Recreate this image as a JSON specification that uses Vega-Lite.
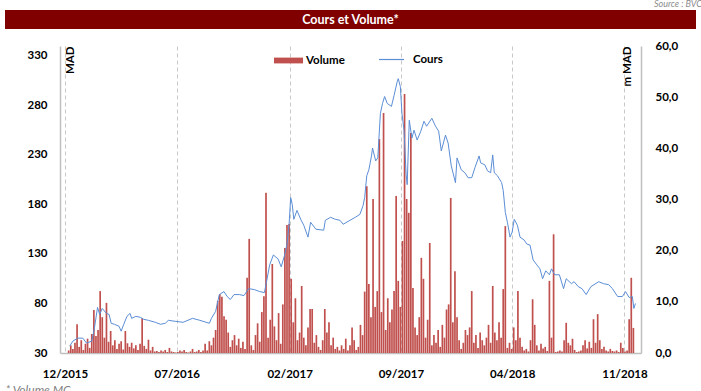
{
"$schema": "https://vega.github.io/schema/vega-lite/v6.json",
"padding": {"top": 0, "left": 5, "right": 5, "bottom": 0},
"title": {"text": "Source : BVC", "anchor": "end", "fontSize": 9, "fontStyle": "italic", "fontWeight": "normal", "color": "#8c8c8c", "font": "Lato", "offset": 1, "dx": 6},
"config": {"view": {"stroke": null}, "font": "Lato"},
"spacing": 17,
"bounds": "flush",
"center": true,
"datasets": {
"line": [
{"d":"2015-12-10","c":37},{"d":"2015-12-16","c":42},{"d":"2015-12-25","c":45},{"d":"2016-01-04","c":45},{"d":"2016-01-11","c":40},{"d":"2016-01-21","c":42},{"d":"2016-01-26","c":55},{"d":"2016-02-01","c":76},{"d":"2016-02-05","c":69},{"d":"2016-02-10","c":75},{"d":"2016-02-18","c":70},{"d":"2016-02-23","c":69},{"d":"2016-02-27","c":60},{"d":"2016-03-04","c":59},{"d":"2016-03-13","c":57},{"d":"2016-03-17","c":52},{"d":"2016-03-22","c":59},{"d":"2016-03-28","c":67},{"d":"2016-04-03","c":70},{"d":"2016-04-06","c":65},{"d":"2016-04-14","c":67},{"d":"2016-04-23","c":66},{"d":"2016-04-29","c":64},{"d":"2016-05-08","c":63},{"d":"2016-05-21","c":61},{"d":"2016-05-31","c":59},{"d":"2016-06-09","c":60},{"d":"2016-06-15","c":63},{"d":"2016-06-28","c":62},{"d":"2016-07-13","c":61},{"d":"2016-07-31","c":65},{"d":"2016-08-14","c":63},{"d":"2016-09-01","c":60},{"d":"2016-09-05","c":65},{"d":"2016-09-13","c":72},{"d":"2016-09-20","c":89},{"d":"2016-09-29","c":92},{"d":"2016-10-05","c":87},{"d":"2016-10-11","c":84},{"d":"2016-10-18","c":89},{"d":"2016-10-28","c":89},{"d":"2016-11-06","c":88},{"d":"2016-11-15","c":95},{"d":"2016-11-26","c":94},{"d":"2016-12-06","c":92},{"d":"2016-12-15","c":91},{"d":"2016-12-19","c":102},{"d":"2016-12-25","c":119},{"d":"2017-01-01","c":129},{"d":"2017-01-10","c":125},{"d":"2017-01-16","c":117},{"d":"2017-01-22","c":128},{"d":"2017-01-27","c":140},{"d":"2017-01-31","c":160},{"d":"2017-02-03","c":187},{"d":"2017-02-06","c":180},{"d":"2017-02-09","c":165},{"d":"2017-02-15","c":174},{"d":"2017-02-23","c":164},{"d":"2017-02-28","c":159},{"d":"2017-03-08","c":147},{"d":"2017-03-13","c":162},{"d":"2017-03-23","c":155},{"d":"2017-04-07","c":154},{"d":"2017-04-10","c":164},{"d":"2017-04-20","c":167},{"d":"2017-04-29","c":165},{"d":"2017-05-08","c":164},{"d":"2017-05-14","c":160},{"d":"2017-05-27","c":164},{"d":"2017-06-06","c":167},{"d":"2017-06-15","c":170},{"d":"2017-06-21","c":179},{"d":"2017-06-24","c":187},{"d":"2017-06-28","c":209},{"d":"2017-07-02","c":215},{"d":"2017-07-07","c":229},{"d":"2017-07-09","c":237},{"d":"2017-07-15","c":224},{"d":"2017-07-19","c":227},{"d":"2017-07-24","c":272},{"d":"2017-07-28","c":282},{"d":"2017-08-01","c":289},{"d":"2017-08-06","c":282},{"d":"2017-08-14","c":279},{"d":"2017-08-19","c":290},{"d":"2017-08-25","c":304},{"d":"2017-08-27","c":307},{"d":"2017-08-31","c":299},{"d":"2017-09-03","c":272},{"d":"2017-09-07","c":255},{"d":"2017-09-11","c":210},{"d":"2017-09-13","c":200},{"d":"2017-09-17","c":265},{"d":"2017-09-22","c":247},{"d":"2017-09-26","c":255},{"d":"2017-10-02","c":245},{"d":"2017-10-09","c":254},{"d":"2017-10-15","c":264},{"d":"2017-10-20","c":259},{"d":"2017-10-30","c":267},{"d":"2017-11-06","c":259},{"d":"2017-11-12","c":254},{"d":"2017-11-17","c":234},{"d":"2017-11-25","c":250},{"d":"2017-11-30","c":242},{"d":"2017-12-06","c":219},{"d":"2017-12-14","c":202},{"d":"2017-12-17","c":227},{"d":"2017-12-25","c":215},{"d":"2018-01-01","c":212},{"d":"2018-01-07","c":207},{"d":"2018-01-14","c":207},{"d":"2018-01-20","c":217},{"d":"2018-01-28","c":229},{"d":"2018-01-31","c":222},{"d":"2018-02-08","c":220},{"d":"2018-02-13","c":214},{"d":"2018-02-19","c":212},{"d":"2018-02-23","c":230},{"d":"2018-02-26","c":212},{"d":"2018-03-04","c":209},{"d":"2018-03-12","c":202},{"d":"2018-03-15","c":194},{"d":"2018-03-19","c":172},{"d":"2018-03-23","c":162},{"d":"2018-03-28","c":147},{"d":"2018-04-01","c":152},{"d":"2018-04-05","c":165},{"d":"2018-04-11","c":159},{"d":"2018-04-16","c":147},{"d":"2018-04-24","c":144},{"d":"2018-04-29","c":140},{"d":"2018-05-05","c":139},{"d":"2018-05-11","c":124},{"d":"2018-05-18","c":119},{"d":"2018-05-24","c":115},{"d":"2018-05-29","c":105},{"d":"2018-06-04","c":113},{"d":"2018-06-11","c":109},{"d":"2018-06-15","c":115},{"d":"2018-06-21","c":109},{"d":"2018-06-30","c":109},{"d":"2018-07-08","c":95},{"d":"2018-07-13","c":105},{"d":"2018-07-23","c":100},{"d":"2018-07-28","c":102},{"d":"2018-08-05","c":97},{"d":"2018-08-12","c":95},{"d":"2018-08-20","c":89},{"d":"2018-08-29","c":97},{"d":"2018-09-04","c":99},{"d":"2018-09-13","c":102},{"d":"2018-09-22","c":100},{"d":"2018-10-02","c":99},{"d":"2018-10-09","c":95},{"d":"2018-10-19","c":87},{"d":"2018-10-28","c":87},{"d":"2018-11-03","c":92},{"d":"2018-11-10","c":86},{"d":"2018-11-16","c":87},{"d":"2018-11-19","c":75},{"d":"2018-11-22","c":80}
],
"bars": [
{"d":"2015-12-08","v":0.5},{"d":"2015-12-12","v":1.5},{"d":"2015-12-16","v":0.8},{"d":"2015-12-20","v":2.0},{"d":"2015-12-24","v":5.6},{"d":"2015-12-28","v":1.2},{"d":"2016-01-01","v":2.5},{"d":"2016-01-05","v":0.6},{"d":"2016-01-09","v":1.8},{"d":"2016-01-13","v":2.8},{"d":"2016-01-17","v":1.0},{"d":"2016-01-21","v":3.7},{"d":"2016-01-25","v":8.4},{"d":"2016-01-29","v":3.3},{"d":"2016-02-02","v":4.5},{"d":"2016-02-06","v":12.1},{"d":"2016-02-10","v":7.0},{"d":"2016-02-14","v":3.0},{"d":"2016-02-18","v":9.8},{"d":"2016-02-22","v":2.2},{"d":"2016-02-26","v":4.3},{"d":"2016-03-01","v":1.5},{"d":"2016-03-05","v":2.5},{"d":"2016-03-09","v":0.8},{"d":"2016-03-13","v":1.8},{"d":"2016-03-17","v":2.3},{"d":"2016-03-21","v":0.7},{"d":"2016-03-25","v":4.3},{"d":"2016-03-29","v":1.9},{"d":"2016-04-02","v":1.2},{"d":"2016-04-06","v":2.0},{"d":"2016-04-10","v":0.9},{"d":"2016-04-14","v":1.5},{"d":"2016-04-18","v":0.6},{"d":"2016-04-22","v":1.8},{"d":"2016-04-26","v":6.8},{"d":"2016-04-30","v":1.4},{"d":"2016-05-04","v":0.8},{"d":"2016-05-08","v":2.6},{"d":"2016-05-12","v":0.5},{"d":"2016-05-16","v":1.2},{"d":"2016-05-20","v":0.3},{"d":"2016-05-24","v":0.4},{"d":"2016-05-28","v":0.2},{"d":"2016-06-01","v":0.5},{"d":"2016-06-05","v":0.3},{"d":"2016-06-09","v":0.6},{"d":"2016-06-13","v":0.2},{"d":"2016-06-17","v":1.0},{"d":"2016-06-21","v":0.3},{"d":"2016-06-25","v":0.2},{"d":"2016-06-29","v":0.1},{"d":"2016-07-03","v":0.2},{"d":"2016-07-07","v":0.5},{"d":"2016-07-11","v":0.3},{"d":"2016-07-15","v":0.6},{"d":"2016-07-19","v":0.2},{"d":"2016-07-23","v":0.1},{"d":"2016-07-27","v":0.3},{"d":"2016-07-31","v":0.8},{"d":"2016-08-04","v":0.2},{"d":"2016-08-08","v":0.3},{"d":"2016-08-12","v":0.6},{"d":"2016-08-16","v":0.2},{"d":"2016-08-20","v":0.5},{"d":"2016-08-24","v":1.8},{"d":"2016-08-28","v":0.5},{"d":"2016-09-01","v":2.3},{"d":"2016-09-05","v":1.5},{"d":"2016-09-09","v":3.0},{"d":"2016-09-13","v":4.5},{"d":"2016-09-17","v":10.2},{"d":"2016-09-21","v":11.5},{"d":"2016-09-25","v":11.0},{"d":"2016-09-29","v":7.2},{"d":"2016-10-03","v":6.5},{"d":"2016-10-07","v":4.0},{"d":"2016-10-11","v":1.2},{"d":"2016-10-15","v":2.5},{"d":"2016-10-19","v":3.5},{"d":"2016-10-23","v":1.5},{"d":"2016-10-27","v":2.8},{"d":"2016-10-31","v":1.0},{"d":"2016-11-04","v":2.2},{"d":"2016-11-08","v":0.8},{"d":"2016-11-12","v":14.7},{"d":"2016-11-16","v":22.3},{"d":"2016-11-20","v":1.5},{"d":"2016-11-24","v":0.6},{"d":"2016-11-28","v":3.5},{"d":"2016-12-02","v":5.8},{"d":"2016-12-06","v":2.2},{"d":"2016-12-10","v":8.0},{"d":"2016-12-14","v":11.1},{"d":"2016-12-18","v":31.3},{"d":"2016-12-22","v":3.0},{"d":"2016-12-26","v":6.5},{"d":"2016-12-30","v":17.4},{"d":"2017-01-03","v":5.2},{"d":"2017-01-07","v":2.5},{"d":"2017-01-11","v":7.8},{"d":"2017-01-15","v":1.8},{"d":"2017-01-19","v":9.5},{"d":"2017-01-23","v":20.5},{"d":"2017-01-27","v":25.0},{"d":"2017-01-31","v":25.2},{"d":"2017-02-04","v":14.5},{"d":"2017-02-08","v":6.0},{"d":"2017-02-12","v":10.7},{"d":"2017-02-16","v":2.5},{"d":"2017-02-20","v":4.0},{"d":"2017-02-24","v":13.1},{"d":"2017-02-28","v":3.0},{"d":"2017-03-04","v":1.5},{"d":"2017-03-08","v":5.0},{"d":"2017-03-12","v":8.6},{"d":"2017-03-16","v":8.6},{"d":"2017-03-20","v":2.0},{"d":"2017-03-24","v":3.5},{"d":"2017-03-28","v":1.2},{"d":"2017-04-01","v":0.6},{"d":"2017-04-05","v":2.5},{"d":"2017-04-09","v":8.6},{"d":"2017-04-13","v":4.0},{"d":"2017-04-17","v":6.0},{"d":"2017-04-21","v":1.5},{"d":"2017-04-25","v":3.0},{"d":"2017-04-29","v":0.8},{"d":"2017-05-03","v":1.2},{"d":"2017-05-07","v":0.5},{"d":"2017-05-11","v":1.5},{"d":"2017-05-15","v":0.8},{"d":"2017-05-19","v":2.8},{"d":"2017-05-23","v":0.5},{"d":"2017-05-27","v":1.5},{"d":"2017-05-31","v":5.0},{"d":"2017-06-04","v":2.5},{"d":"2017-06-08","v":0.6},{"d":"2017-06-12","v":1.2},{"d":"2017-06-16","v":5.5},{"d":"2017-06-20","v":3.5},{"d":"2017-06-24","v":12.0},{"d":"2017-06-28","v":32.6},{"d":"2017-07-02","v":13.5},{"d":"2017-07-06","v":7.0},{"d":"2017-07-10","v":30.1},{"d":"2017-07-14","v":9.0},{"d":"2017-07-18","v":12.1},{"d":"2017-07-22","v":41.8},{"d":"2017-07-26","v":8.0},{"d":"2017-07-30","v":46.9},{"d":"2017-08-03","v":4.5},{"d":"2017-08-07","v":10.7},{"d":"2017-08-11","v":6.0},{"d":"2017-08-15","v":8.5},{"d":"2017-08-19","v":12.1},{"d":"2017-08-23","v":30.7},{"d":"2017-08-27","v":14.1},{"d":"2017-08-31","v":9.0},{"d":"2017-09-04","v":21.9},{"d":"2017-09-08","v":50.6},{"d":"2017-09-12","v":30.1},{"d":"2017-09-16","v":27.4},{"d":"2017-09-20","v":43.0},{"d":"2017-09-24","v":12.7},{"d":"2017-09-28","v":5.0},{"d":"2017-10-02","v":3.5},{"d":"2017-10-06","v":7.0},{"d":"2017-10-10","v":18.6},{"d":"2017-10-14","v":14.5},{"d":"2017-10-18","v":3.0},{"d":"2017-10-22","v":6.5},{"d":"2017-10-26","v":21.5},{"d":"2017-10-30","v":1.5},{"d":"2017-11-03","v":3.5},{"d":"2017-11-07","v":2.0},{"d":"2017-11-11","v":4.5},{"d":"2017-11-15","v":1.2},{"d":"2017-11-19","v":5.5},{"d":"2017-11-23","v":3.0},{"d":"2017-11-27","v":8.5},{"d":"2017-12-01","v":9.5},{"d":"2017-12-05","v":30.3},{"d":"2017-12-09","v":6.0},{"d":"2017-12-13","v":16.0},{"d":"2017-12-17","v":7.0},{"d":"2017-12-21","v":2.5},{"d":"2017-12-25","v":0.8},{"d":"2017-12-29","v":2.0},{"d":"2018-01-02","v":4.5},{"d":"2018-01-06","v":3.5},{"d":"2018-01-10","v":5.0},{"d":"2018-01-14","v":12.1},{"d":"2018-01-18","v":2.0},{"d":"2018-01-22","v":3.5},{"d":"2018-01-26","v":1.0},{"d":"2018-01-30","v":4.0},{"d":"2018-02-03","v":2.5},{"d":"2018-02-07","v":1.5},{"d":"2018-02-11","v":3.0},{"d":"2018-02-15","v":5.5},{"d":"2018-02-19","v":2.0},{"d":"2018-02-23","v":13.1},{"d":"2018-02-27","v":4.0},{"d":"2018-03-03","v":2.5},{"d":"2018-03-07","v":6.0},{"d":"2018-03-11","v":3.0},{"d":"2018-03-15","v":12.5},{"d":"2018-03-19","v":24.8},{"d":"2018-03-23","v":1.0},{"d":"2018-03-27","v":2.0},{"d":"2018-03-31","v":0.8},{"d":"2018-04-04","v":5.0},{"d":"2018-04-08","v":2.5},{"d":"2018-04-12","v":12.1},{"d":"2018-04-16","v":3.0},{"d":"2018-04-20","v":1.2},{"d":"2018-04-24","v":0.5},{"d":"2018-04-28","v":0.8},{"d":"2018-05-02","v":0.3},{"d":"2018-05-06","v":2.5},{"d":"2018-05-10","v":10.5},{"d":"2018-05-14","v":5.5},{"d":"2018-05-18","v":1.5},{"d":"2018-05-22","v":0.5},{"d":"2018-05-26","v":1.8},{"d":"2018-05-30","v":0.9},{"d":"2018-06-03","v":1.2},{"d":"2018-06-07","v":0.4},{"d":"2018-06-11","v":14.1},{"d":"2018-06-15","v":3.0},{"d":"2018-06-19","v":23.2},{"d":"2018-06-23","v":0.2},{"d":"2018-06-27","v":0.3},{"d":"2018-07-01","v":0.5},{"d":"2018-07-05","v":0.3},{"d":"2018-07-09","v":2.5},{"d":"2018-07-13","v":5.9},{"d":"2018-07-17","v":2.0},{"d":"2018-07-21","v":1.5},{"d":"2018-07-25","v":2.8},{"d":"2018-07-29","v":0.6},{"d":"2018-08-02","v":0.2},{"d":"2018-08-06","v":0.3},{"d":"2018-08-10","v":0.5},{"d":"2018-08-14","v":1.5},{"d":"2018-08-18","v":2.5},{"d":"2018-08-22","v":0.9},{"d":"2018-08-26","v":2.2},{"d":"2018-08-30","v":1.0},{"d":"2018-09-03","v":6.6},{"d":"2018-09-07","v":2.0},{"d":"2018-09-11","v":7.6},{"d":"2018-09-15","v":2.5},{"d":"2018-09-19","v":0.8},{"d":"2018-09-23","v":1.2},{"d":"2018-09-27","v":0.5},{"d":"2018-10-01","v":0.3},{"d":"2018-10-05","v":0.8},{"d":"2018-10-09","v":0.4},{"d":"2018-10-13","v":0.3},{"d":"2018-10-17","v":0.5},{"d":"2018-10-21","v":0.2},{"d":"2018-10-25","v":2.0},{"d":"2018-10-29","v":1.0},{"d":"2018-11-02","v":0.3},{"d":"2018-11-06","v":0.5},{"d":"2018-11-10","v":6.6},{"d":"2018-11-14","v":14.7},{"d":"2018-11-18","v":4.9}
]
},
"vconcat": [
{
"width": 691, "height": 19,
"view": {"fill": "#800000", "stroke": null},
"data": {"values": [{"t": "Cours et Volume*"}]},
"mark": {"type": "text", "color": "white", "font": "Lato", "fontWeight": "bold", "fontSize": 12.5, "baseline": "middle", "align": "center"},
"encoding": {"text": {"field": "t", "type": "nominal"}}
},
{
"width": 581, "height": 307,
"view": {"stroke": null},
"layer": [
{
"data": {"name": "bars"},
"mark": {"type": "bar", "size": 1.7},
"encoding": {
"x": {"field": "d", "type": "temporal",
"scale": {"type": "utc", "domain": [{"year": 2015, "month": 12, "date": 1, "utc": true}, {"year": 2018, "month": 11, "date": 23, "utc": true}]},
"axis": {"values": [{"year": 2015, "month": 12, "date": 1, "utc": true}, {"year": 2016, "month": 7, "date": 1, "utc": true}, {"year": 2017, "month": 2, "date": 1, "utc": true}, {"year": 2017, "month": 9, "date": 1, "utc": true}, {"year": 2018, "month": 4, "date": 1, "utc": true}, {"year": 2018, "month": 11, "date": 1, "utc": true}],
"labelExpr": "utcFormat(datum.value, '%m/%Y')",
"grid": true, "gridDash": [4, 3], "gridColor": "#c8c8c8", "gridWidth": 1,
"ticks": false, "domainColor": "#bfbfbf", "domainWidth": 1.5,
"labelFont": "Lato", "labelFontWeight": "bold", "labelFontSize": 11.5, "labelColor": "black", "labelPadding": 15, "labelFlush": false,
"title": "* Volume MC", "titleAnchor": "start", "titleAlign": "left", "titleX": -55, "titleY": 40, "titleBaseline": "alphabetic",
"titleFont": "Lato", "titleFontStyle": "italic", "titleFontWeight": "normal", "titleFontSize": 12, "titleColor": "#7f7f7f"}},
"y": {"field": "v", "type": "quantitative",
"scale": {"domain": [0, 60], "nice": false},
"axis": {"orient": "right", "values": [0, 10, 20, 30, 40, 50, 60], "labelExpr": "replace(format(datum.value, '.1f'), '.', ',')",
"ticks": false, "grid": false, "domainColor": "#bfbfbf", "domainWidth": 1.5,
"labelFont": "Lato", "labelFontWeight": "bold", "labelFontSize": 11.5, "labelColor": "black", "labelPadding": 14, "labelFlush": false,
"title": "m MAD", "titleAngle": 270, "titleX": -14, "titleY": 0, "titleAlign": "right", "titleBaseline": "middle",
"titleFont": "Lato", "titleFontWeight": "bold", "titleFontSize": 11.5, "titleColor": "black"}},
"fill": {"datum": "Volume", "type": "nominal", "scale": {"range": ["#c0504d"]},
"legend": {"orient": "none", "legendX": 269, "legendY": 36, "title": null, "padding": 0,
"symbolType": "M-1,-0.2H1V0.2H-1Z", "symbolSize": 841, "symbolStrokeWidth": 0,
"labelFont": "Lato", "labelFontWeight": "bold", "labelFontSize": 11.5, "labelColor": "black", "labelOffset": 3}}
}
},
{
"data": {"name": "line"},
"mark": {"type": "line", "strokeWidth": 1},
"encoding": {
"x": {"field": "d", "type": "temporal",
"scale": {"type": "utc", "domain": [{"year": 2015, "month": 12, "date": 1, "utc": true}, {"year": 2018, "month": 11, "date": 23, "utc": true}]}},
"y": {"field": "c", "type": "quantitative",
"scale": {"domain": [30, 340], "nice": false, "zero": false},
"axis": {"orient": "left", "values": [30, 80, 130, 180, 230, 280, 330],
"ticks": false, "grid": false, "domainColor": "#bfbfbf", "domainWidth": 1.5,
"labelFont": "Lato", "labelFontWeight": "bold", "labelFontSize": 11.5, "labelColor": "black", "labelPadding": 13, "labelFlush": false,
"title": "MAD", "titleAngle": 270, "titleX": 10, "titleY": 0, "titleAlign": "right", "titleBaseline": "middle",
"titleFont": "Lato", "titleFontWeight": "bold", "titleFontSize": 11.5, "titleColor": "black"}},
"stroke": {"datum": "Cours", "type": "nominal", "scale": {"range": ["#5b8ed6"]},
"legend": {"orient": "none", "legendX": 373, "legendY": 36, "title": null, "padding": 0,
"symbolType": "M-1,0H1", "symbolSize": 625, "symbolStrokeWidth": 1.2,
"labelFont": "Lato", "labelFontWeight": "bold", "labelFontSize": 11.5, "labelColor": "black", "labelOffset": 8}}
}
}
],
"resolve": {"scale": {"y": "independent"}, "axis": {"y": "independent"}}
}
]
}
